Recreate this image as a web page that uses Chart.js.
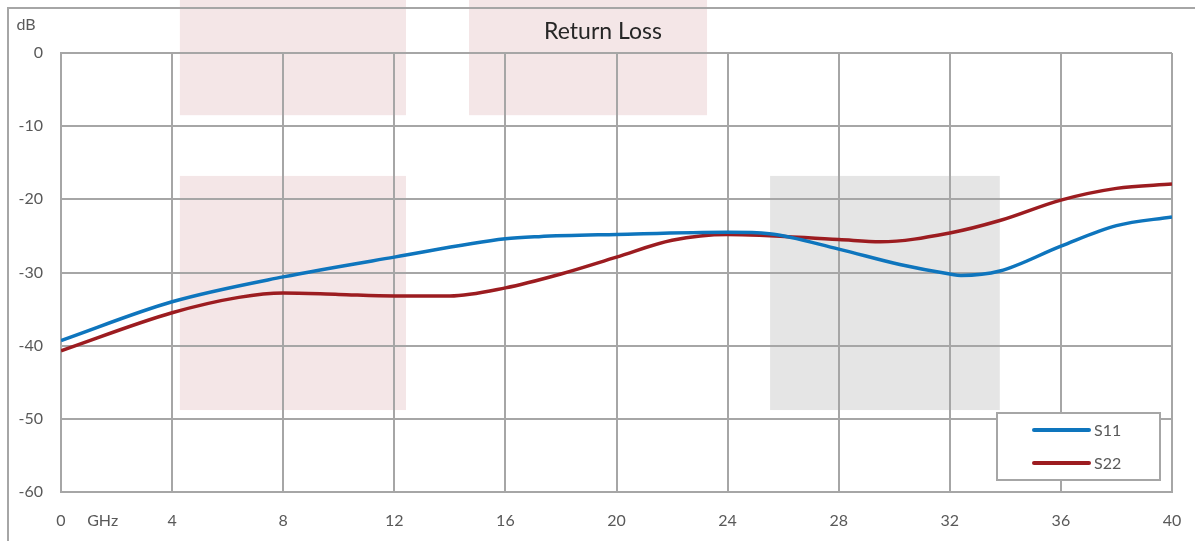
<!DOCTYPE html>
<html>
  <script src="https://cdn.jsdelivr.net/npm/chart.js"></script>
  <body style="margin:0; background:#fff">
    <div style="width:1195px; height:541px">
      <canvas id="myChart" width="1195" height="541"></canvas>
    </div>

    <script>
      const ctx = document.getElementById('myChart');

      // GHz / dB
      var s11Freq = [0, 4, 8, 12, 16, 17.2, 20, 24, 25.5, 28, 30.2, 32, 32.4, 33.8, 36, 38, 40];
      var s11Db = [-39.3, -34.0, -30.6, -27.9, -25.4, -25.1, -24.8, -24.5, -24.7, -26.8, -28.9, -30.2, -30.4, -29.8, -26.4, -23.6, -22.4];
      var s22Freq = [0, 4, 6.4, 8, 10, 12, 14, 16, 18, 20, 22, 24, 28, 29.5, 32, 33.8, 36, 38, 40];
      var s22Db = [-40.7, -35.5, -33.4, -32.8, -33.0, -33.2, -33.2, -32.1, -30.2, -27.9, -25.6, -24.8, -25.5, -25.8, -24.6, -22.9, -20.1, -18.5, -17.9];
      var xTicks = [0, 4, 8, 12, 16, 20, 24, 28, 32, 36, 40];

      // background shading boxes, in GHz / dB
      var shades = [
        { x0: 4.28, x1: 12.42, y0: -8.5, y1: 7.5, color: '#f4e6e7' },
        { x0: 14.69, x1: 23.26, y0: -8.5, y1: 7.5, color: '#f4e6e7' },
        { x0: 4.28, x1: 12.42, y0: -48.8, y1: -16.8, color: '#f4e6e7' },
        { x0: 25.53, x1: 33.8, y0: -48.8, y1: -16.8, color: '#e5e5e5' }
      ];

      function pts(xs, ys) {
        return xs.map(function (x, i) { return { x: x, y: ys[i] }; });
      }

      const font = 'Lato';
      const gridColor = '#a6a6a6';

      const decor = {
        id: 'decor',
        beforeDraw(chart) {
          const c = chart.ctx, xs = chart.scales.x, ys = chart.scales.y;
          c.save();
          shades.forEach(function (s) {
            var l = xs.getPixelForValue(s.x0), r = xs.getPixelForValue(s.x1);
            var t = ys.getPixelForValue(s.y1), b = ys.getPixelForValue(s.y0);
            c.fillStyle = s.color;
            c.fillRect(l, t, r - l, b - t);
          });
          // outer frame
          c.strokeStyle = gridColor;
          c.lineWidth = 2;
          c.beginPath();
          c.moveTo(1195, 8);
          c.lineTo(8, 8);
          c.lineTo(8, 541);
          c.stroke();
          c.restore();
        },
        afterDraw(chart) {
          const c = chart.ctx, xs = chart.scales.x;
          c.save();
          c.fillStyle = '#262626';
          c.font = '23px ' + font;
          c.textAlign = 'center';
          c.textBaseline = 'middle';
          c.fillText('Return Loss', 603, 32);

          c.fillStyle = '#595959';
          c.font = '16px ' + font;
          c.fillText('dB', 26, 25);
          c.fillText('GHz', xs.getPixelForValue(1.5), 521);

          // legend box
          c.fillStyle = '#fff';
          c.fillRect(997, 413, 163, 67);
          c.strokeStyle = gridColor;
          c.lineWidth = 2;
          c.strokeRect(997, 413, 163, 67);
          chart.data.datasets.forEach(function (ds, i) {
            var y = 430 + i * 33;
            c.strokeStyle = ds.borderColor;
            c.lineWidth = 4;
            c.lineCap = 'round';
            c.beginPath();
            c.moveTo(1034, y);
            c.lineTo(1089, y);
            c.stroke();
            c.fillStyle = '#595959';
            c.textAlign = 'left';
            c.fillText(ds.label, 1094, y + 1);
          });
          c.restore();
        }
      };

      new Chart(ctx, {
        type: 'line',
        data: {
          datasets: [
            { label: 'S11', data: pts(s11Freq, s11Db), borderColor: '#0e75bd', borderWidth: 3.5, pointRadius: 0, tension: 0.4, cubicInterpolationMode: 'monotone' },
            { label: 'S22', data: pts(s22Freq, s22Db), borderColor: '#9c1c20', borderWidth: 3.5, pointRadius: 0, tension: 0.4, cubicInterpolationMode: 'monotone' }
          ]
        },
        options: {
          responsive: false,
          animation: false,
          layout: { padding: { left: 0, right: 23, top: 53, bottom: 0 } },
          plugins: {
            legend: { display: false },
            title: { display: false },
            tooltip: { enabled: false }
          },
          scales: {
            x: {
              type: 'linear',
              min: 0,
              max: 40,
              afterBuildTicks: function (scale) {
                scale.ticks = xTicks.map(function (v) { return { value: v }; });
              },
              afterFit: function (scale) {
                scale.height = 49;
                scale.paddingLeft = 0;
                scale.paddingRight = 0;
              },
              grid: { color: gridColor, lineWidth: 2, drawTicks: false },
              border: { color: gridColor, width: 2 },
              ticks: { color: '#595959', font: { family: font, size: 16 }, padding: 19, maxRotation: 0, autoSkip: false }
            },
            y: {
              min: -60,
              max: 0,
              afterFit: function (scale) { scale.width = 61; },
              grid: { color: gridColor, lineWidth: 2, drawTicks: false },
              border: { color: gridColor, width: 2 },
              ticks: { stepSize: 10, color: '#595959', font: { family: font, size: 16 }, padding: 18 }
            }
          }
        },
        plugins: [decor]
      });
    </script>
  </body>
</html>
